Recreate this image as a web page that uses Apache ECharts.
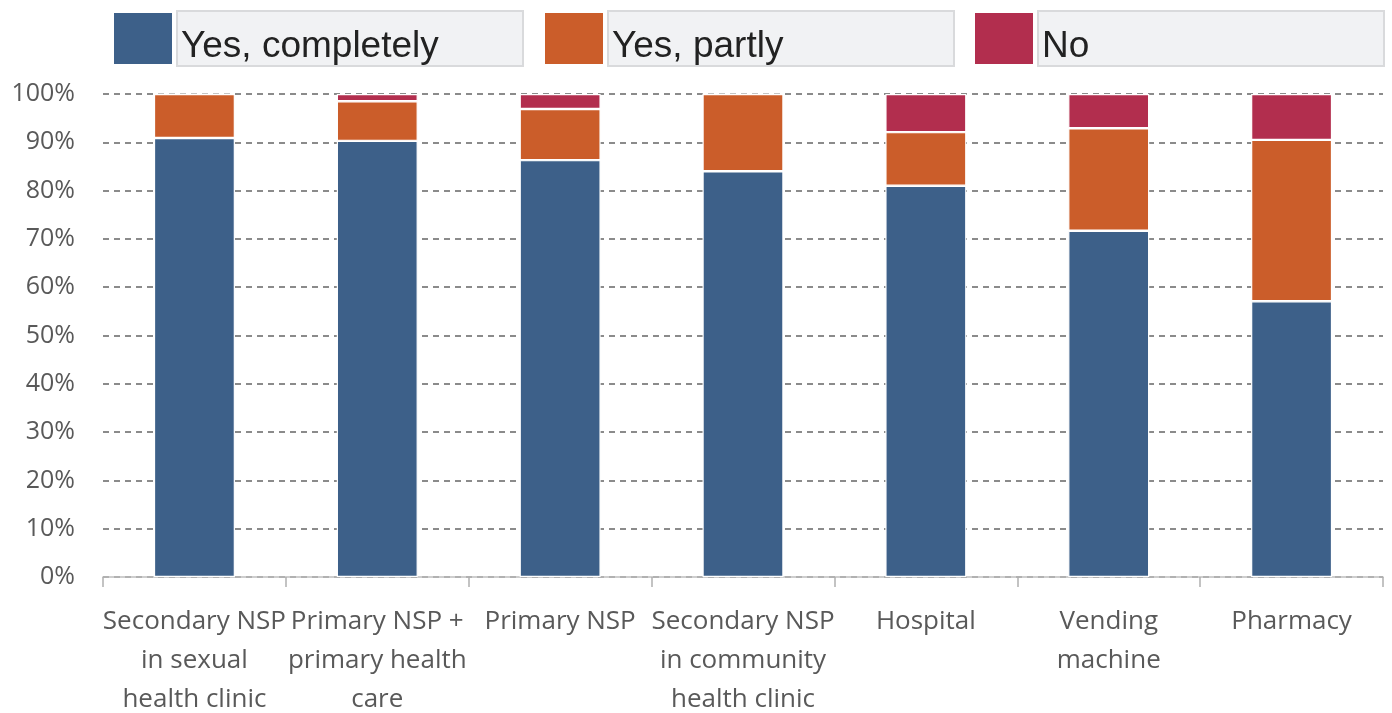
<!DOCTYPE html>
<html><head><meta charset="utf-8">
<script src="https://cdn.jsdelivr.net/npm/echarts@6/dist/echarts.min.js"></script>
<style>html,body{margin:0;padding:0;background:#fff}#c{width:1392px;height:713px}</style>
</head><body><div id="c"></div>
<script>
const categories = ['Secondary NSP\nin sexual\nhealth clinic','Primary NSP +\nprimary health\ncare','Primary NSP','Secondary NSP\nin community\nhealth clinic','Hospital','Vending\nmachine','Pharmacy'];
const seriesNames = ['Yes, completely','Yes, partly','No'];
const yesCompletely = [90.9, 90.3, 86.3, 84.0, 81.0, 71.7, 57.1];
const yesPartly = [9.1, 8.2, 10.6, 16.0, 11.1, 21.2, 33.4];
const no = [0, 1.5, 3.1, 0, 7.9, 7.1, 9.5];
const colors = ['#3D6089','#CB5D2A','#B22E4E'];
const font = 'Open Sans';

const chart = echarts.init(document.getElementById('c'));
const values = [yesCompletely, yesPartly, no];
const legendLefts = [112, 543, 973];
chart.setOption({
  animation:false,
  color: colors,
  legend: seriesNames.map((n,i)=>({
    top:10, left:legendLefts[i], itemWidth:60, itemHeight:53, padding:0,
    icon:'rect', data:[n],
    formatter:'{a|{name}}',
    textStyle:{fontFamily:'Liberation Sans', fontSize:37, color:'#222',
      width:341, height:47, lineHeight:47, backgroundColor:'#F1F2F4',
      borderColor:'#D9DADC', borderWidth:2, padding:[6,0,0,3],
      rich:{a:{fontFamily:'Liberation Sans', fontSize:37, color:'#222', lineHeight:47, padding:[10,0,0,0]}}}
  })),
  grid:{left:103, right:9, top:94, bottom:136, outerBoundsMode:'none', containLabel:false},
  xAxis:{type:'category', data:categories,
    axisLine:{lineStyle:{color:'#BFBFBF', width:1.5}},
    axisTick:{show:true, length:10, lineStyle:{color:'#B0B0B0', width:1.5}},
    axisLabel:{fontFamily:font, fontSize:26, color:'#595959', lineHeight:39, margin:25, interval:0}
  },
  yAxis:{type:'value', min:0, max:100, interval:10,
    axisLabel:{formatter:'{value}%', fontFamily:font, fontSize:25, color:'#595959', margin:28},
    axisLine:{show:false}, axisTick:{show:false},
    splitLine:{lineStyle:{color:'#666', type:[6,5], width:1.5}}
  },
  series: seriesNames.map((n,i)=>({
    name:n, type:'bar', stack:'s', data:values[i], barWidth:81,
    itemStyle:{borderColor:'#fff', borderWidth:1.2}
  }))
});
</script></body></html>
